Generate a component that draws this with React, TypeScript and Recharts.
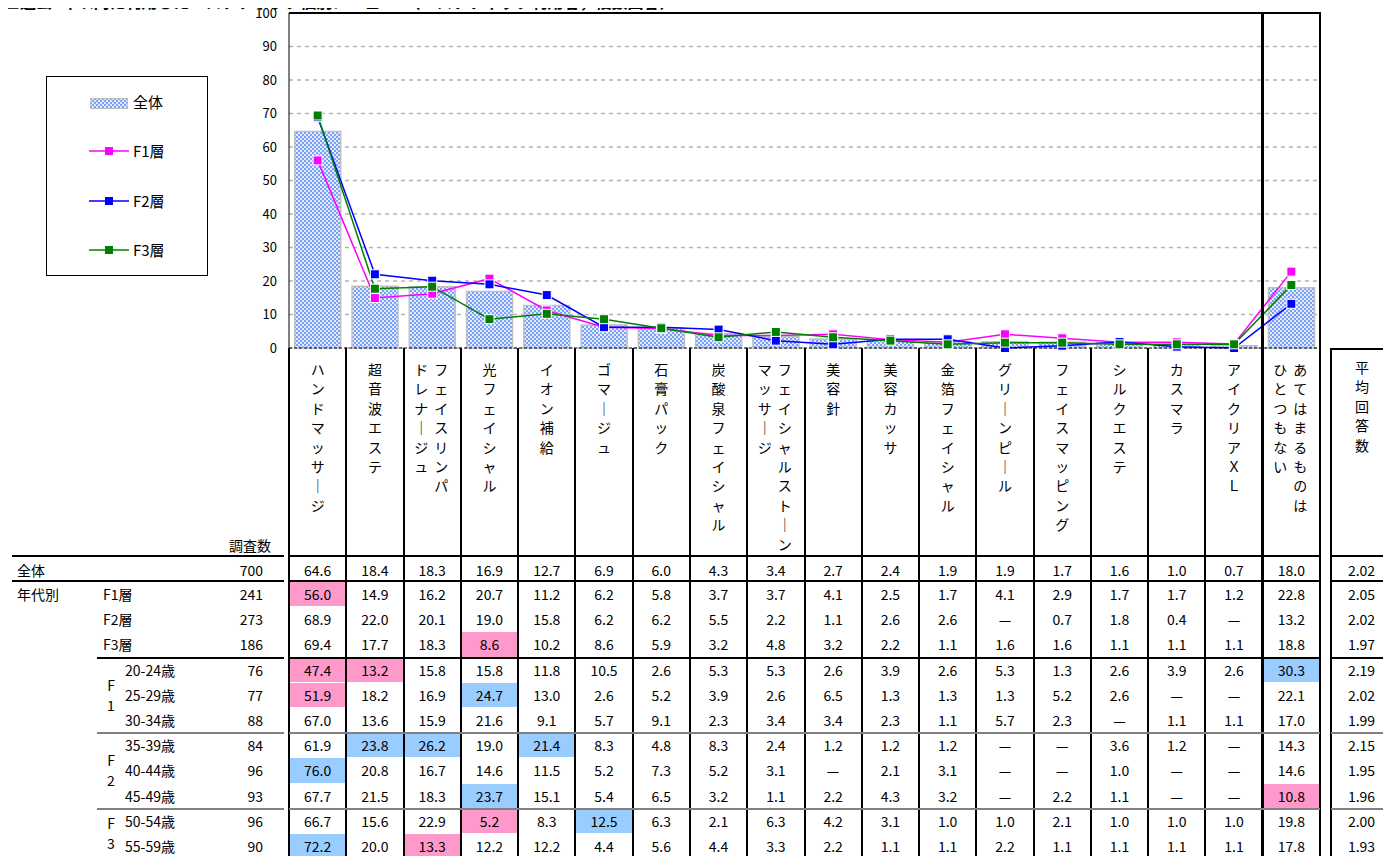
import React from "react";
import { ComposedChart, Bar, Line, XAxis, YAxis, CartesianGrid } from "recharts";

const categories = [
  "ハンドマッサージ",
  "超音波エステ",
  "フェイスリンパ\nドレナージュ",
  "光フェイシャル",
  "イオン補給",
  "ゴマージュ",
  "石膏パック",
  "炭酸泉フェイシャル",
  "フェイシャルストーン\nマッサージ",
  "美容針",
  "美容カッサ",
  "金箔フェイシャル",
  "グリーンピール",
  "フェイスマッピング",
  "シルクエステ",
  "カスマラ",
  "アイクリアＸＬ",
  "あてはまるものは\nひとつもない",
];

const totalValues = [64.6, 18.4, 18.3, 16.9, 12.7, 6.9, 6.0, 4.3, 3.4, 2.7, 2.4, 1.9, 1.9, 1.7, 1.6, 1.0, 0.7, 18.0];
const f1Values = [56.0, 14.9, 16.2, 20.7, 11.2, 6.2, 5.8, 3.7, 3.7, 4.1, 2.5, 1.7, 4.1, 2.9, 1.7, 1.7, 1.2, 22.8];
const f2Values = [68.9, 22.0, 20.1, 19.0, 15.8, 6.2, 6.2, 5.5, 2.2, 1.1, 2.6, 2.6, null, 0.7, 1.8, 0.4, null, 13.2];
const f3Values = [69.4, 17.7, 18.3, 8.6, 10.2, 8.6, 5.9, 3.2, 4.8, 3.2, 2.2, 1.1, 1.6, 1.6, 1.1, 1.1, 1.1, 18.8];

const yTicks = [0, 10, 20, 30, 40, 50, 60, 70, 80, 90, 100];

const totalCount = 700;
const totalAvg = 2.02;

const rowLabels = ["F1層", "F2層", "F3層", "20-24歳", "25-29歳", "30-34歳", "35-39歳", "40-44歳", "45-49歳", "50-54歳", "55-59歳"];
const rowCounts = [241, 273, 186, 76, 77, 88, 84, 96, 93, 96, 90];
const rowAvg = [2.05, 2.02, 1.97, 2.19, 2.02, 1.99, 2.15, 1.95, 1.96, 2.0, 1.93];
const rowValues: (number | null)[][] = [
  f1Values,
  f2Values,
  f3Values,
  [47.4, 13.2, 15.8, 15.8, 11.8, 10.5, 2.6, 5.3, 5.3, 2.6, 3.9, 2.6, 5.3, 1.3, 2.6, 3.9, 2.6, 30.3],
  [51.9, 18.2, 16.9, 24.7, 13.0, 2.6, 5.2, 3.9, 2.6, 6.5, 1.3, 1.3, 1.3, 5.2, 2.6, null, null, 22.1],
  [67.0, 13.6, 15.9, 21.6, 9.1, 5.7, 9.1, 2.3, 3.4, 3.4, 2.3, 1.1, 5.7, 2.3, null, 1.1, 1.1, 17.0],
  [61.9, 23.8, 26.2, 19.0, 21.4, 8.3, 4.8, 8.3, 2.4, 1.2, 1.2, 1.2, null, null, 3.6, 1.2, null, 14.3],
  [76.0, 20.8, 16.7, 14.6, 11.5, 5.2, 7.3, 5.2, 3.1, null, 2.1, 3.1, null, null, 1.0, null, null, 14.6],
  [67.7, 21.5, 18.3, 23.7, 15.1, 5.4, 6.5, 3.2, 1.1, 2.2, 4.3, 3.2, null, 2.2, 1.1, null, null, 10.8],
  [66.7, 15.6, 22.9, 5.2, 8.3, 12.5, 6.3, 2.1, 6.3, 4.2, 3.1, 1.0, 1.0, 2.1, 1.0, 1.0, 1.0, 19.8],
  [72.2, 20.0, 13.3, 12.2, 12.2, 4.4, 5.6, 4.4, 3.3, 2.2, 1.1, 1.1, 2.2, 1.1, 1.1, 1.1, 1.1, 17.8],
];

// [row, column, 'low' | 'high'] — significance marks vs. 全体
const marks: [number, number, "low" | "high"][] = [
  [0, 0, "low"],
  [2, 3, "low"],
  [3, 0, "low"],
  [3, 1, "low"],
  [3, 17, "high"],
  [4, 0, "low"],
  [4, 3, "high"],
  [6, 1, "high"],
  [6, 2, "high"],
  [6, 4, "high"],
  [7, 0, "high"],
  [8, 3, "high"],
  [8, 17, "low"],
  [9, 3, "low"],
  [9, 5, "high"],
  [10, 0, "high"],
  [10, 2, "low"],
];

const chartData = categories.map((name, i) => ({
  name,
  total: totalValues[i],
  f1: f1Values[i] ?? 0,
  f2: f2Values[i] ?? 0,
  f3: f3Values[i] ?? 0,
}));

const FONT = "'Liberation Sans Narrow', 'Noto Sans CJK JP', sans-serif";
const JP = "'Noto Sans CJK JP', sans-serif";
const PLOT_L = 289;
const PLOT_R = 1320;
const COL_W = (PLOT_R - PLOT_L) / categories.length;
const ROW_TOP = 582;
const ROW_H = 25.2;

const fmt = (v: number | null) => (v == null ? "—" : v.toFixed(1));

const squareDot = (color: string) => (p: any) => (
  <rect key={p.index} x={p.cx - 4.5} y={p.cy - 4.5} width={9} height={9} fill={color} stroke="#fff" strokeWidth={1} />
);

const DotPattern = ({ id }: { id: string }) => (
  <pattern id={id} width={4} height={4} patternUnits="userSpaceOnUse">
    <rect width={4} height={4} fill="#e2eaff" />
    <circle cx={1} cy={1} r={0.9} fill="#4a7df2" />
    <circle cx={3} cy={3} r={0.9} fill="#4a7df2" />
  </pattern>
);

const VerticalTick = (props: any) => {
  const { x, y, payload } = props;
  const cols = String(payload.value).split("\n");
  return (
    <g>
      {cols.map((col, ci) => {
        const cx = x + (cols.length === 1 ? 0 : ci === 0 ? 9 : -11);
        return Array.from(col).map((ch, k) => (
          <text
            key={`${ci}-${k}`}
            x={cx}
            y={y + 19 + k * 19.4}
            textAnchor="middle"
            dominantBaseline="central"
            fontSize={14}
            fontFamily={JP}
            fill="#000"
          >
            {ch === "ー" ? "｜" : ch}
          </text>
        ));
      })}
    </g>
  );
};

const hLine = (y: number, x1: number, x2: number, color = "#000", h = 2) => (
  <div style={{ position: "absolute", left: x1, top: y - h / 2, width: x2 - x1, height: h, background: color }} />
);
const vLine = (x: number, y1: number, y2: number, color = "#000", w = 2) => (
  <div style={{ position: "absolute", left: x - w / 2, top: y1, width: w, height: y2 - y1, background: color }} />
);

const LegendLine = ({ color }: { color: string }) => (
  <svg width={40} height={10} style={{ display: "block" }}>
    <line x1={0} y1={5} x2={40} y2={5} stroke={color} strokeWidth={1.5} />
    <rect x={16} y={1} width={8} height={8} fill={color} />
  </svg>
);

export default function App() {
  const cell = (left: number, top: number, width: number, text: string, align: "left" | "center" | "right" = "center", bg?: string) => (
    <div
      style={{
        position: "absolute",
        left,
        top,
        width,
        height: ROW_H - 1,
        lineHeight: `${ROW_H - 1}px`,
        textAlign: align,
        background: bg,
        fontSize: 14,
        fontFamily: FONT,
        color: "#000",
        whiteSpace: "nowrap",
      }}
    >
      {text}
    </div>
  );

  const markFor = (r: number, c: number) => {
    const m = marks.find((k) => k[0] === r && k[1] === c);
    return m ? (m[2] === "low" ? "#ff99cc" : "#99ccff") : undefined;
  };

  const lineSegs = (y: number, from: number, color = "#000") => (
    <>
      {hLine(y, from, 284, color)}
      {hLine(y, PLOT_L, PLOT_R, color)}
      {hLine(y, 1331, 1391, color)}
    </>
  );

  return (
    <div style={{ position: "relative", width: 1391, height: 856, marginLeft: -8, marginTop: -8, overflow: "hidden", background: "#fff" }}>
      <div style={{ position: "absolute", left: 4, top: -9, fontSize: 16, fontWeight: "bold", fontFamily: JP, whiteSpace: "nowrap", lineHeight: "20px" }}>
        ■過去1年以内に利用したエステティック個別メニュー　（エステティック利用者，複数回答）
      </div>
      <div style={{ position: "absolute", left: 1352, top: -10, fontSize: 13, fontFamily: JP, lineHeight: "20px" }}>（%）</div>

      <div style={{ position: "absolute", left: 0, top: 0 }}>
        <ComposedChart width={1391} height={560} data={chartData} margin={{ top: 13, right: 71, bottom: 5, left: 249 }} barCategoryGap="10%">
          <defs>
            <DotPattern id="dots" />
          </defs>
          <CartesianGrid vertical={false} stroke="#b4b4b4" strokeDasharray="4 4" strokeWidth={1.5} />
          <YAxis
            domain={[0, 100]}
            ticks={yTicks}
            interval={0}
            width={40}
            tickLine={false}
            tickSize={0}
            tickMargin={12}
            axisLine={{ stroke: "#000" }}
            tick={{ fontSize: 13, fill: "#000", fontFamily: FONT }}
          />
          <XAxis
            dataKey="name"
            interval={0}
            height={207}
            tickLine={false}
            tickSize={0}
            axisLine={{ stroke: "#000", strokeDasharray: "3 2" }}
            tick={<VerticalTick />}
          />
          <Bar dataKey="total" fill="url(#dots)" stroke="#c0c0c0" strokeWidth={1.5} isAnimationActive={false} />
          <Line dataKey="f1" stroke="#ff00ff" strokeWidth={1.5} dot={squareDot("#ff00ff")} activeDot={false} isAnimationActive={false} />
          <Line dataKey="f2" stroke="#0000ff" strokeWidth={1.5} dot={squareDot("#0000ff")} activeDot={false} isAnimationActive={false} />
          <Line dataKey="f3" stroke="#008000" strokeWidth={1.5} dot={squareDot("#008000")} activeDot={false} isAnimationActive={false} />
        </ComposedChart>
      </div>

      {/* plot frame */}
      {hLine(13, PLOT_L, PLOT_R + 1, "#000", 1.5)}
      {vLine(PLOT_R, 13, 348, "#000", 1.5)}
      {vLine(PLOT_L + 17 * COL_W, 13, 856, "#000", 2.5)}

      {/* legend */}
      <div style={{ position: "absolute", left: 46, top: 76, width: 160, height: 198, border: "1px solid #000", background: "#fff", fontFamily: JP, fontSize: 15 }}>
        <svg width={38} height={11} style={{ position: "absolute", left: 43, top: 21 }}>
          <defs>
            <DotPattern id="dotsLegend" />
          </defs>
          <rect x={0.5} y={0.5} width={37} height={10} fill="url(#dotsLegend)" stroke="#c0c0c0" />
        </svg>
        <div style={{ position: "absolute", left: 86, top: 14 }}>全体</div>
        {[
          ["#ff00ff", "F1層", 74],
          ["#0000ff", "F2層", 124],
          ["#008000", "F3層", 173],
        ].map(([c, t, y]) => (
          <React.Fragment key={t as string}>
            <div style={{ position: "absolute", left: 42, top: (y as number) - 5 }}>
              <LegendLine color={c as string} />
            </div>
            <div style={{ position: "absolute", left: 86, top: (y as number) - 11 }}>{t}</div>
          </React.Fragment>
        ))}
      </div>

      {/* 平均回答数 header */}
      {Array.from("平均回答数").map((ch, k) => (
        <div key={k} style={{ position: "absolute", left: 1352, top: 358 + k * 19.4, width: 20, textAlign: "center", fontSize: 14, fontFamily: JP, lineHeight: "19px" }}>
          {ch}
        </div>
      ))}

      {/* table: left part */}
      <div style={{ position: "absolute", left: 229, top: 535, fontSize: 14, fontFamily: JP }}>調査数</div>
      {cell(17, 558, 60, "全体", "left")}
      {cell(200, 558, 63, String(totalCount), "right")}
      {cell(17, ROW_TOP, 60, "年代別", "left")}
      {rowLabels.map((l, r) => (
        <React.Fragment key={l}>
          {cell(r < 3 ? 103 : 125, ROW_TOP + r * ROW_H, 80, l, "left")}
          {cell(200, ROW_TOP + r * ROW_H, 63, String(rowCounts[r]), "right")}
        </React.Fragment>
      ))}
      {[
        ["F", "1", 4],
        ["F", "2", 7],
        ["F", "3", 9.5],
      ].map(([a, b, c]) => (
        <React.Fragment key={b as string}>
          {cell(104, ROW_TOP + (c as number) * ROW_H - 10, 14, a as string)}
          {cell(104, ROW_TOP + (c as number) * ROW_H + 10, 14, b as string)}
        </React.Fragment>
      ))}

      {/* table: values */}
      {totalValues.map((v, c) => (
        <React.Fragment key={c}>{cell(PLOT_L + c * COL_W + 1, 558, COL_W - 2, fmt(v))}</React.Fragment>
      ))}
      {cell(1332, 558, 59, totalAvg.toFixed(2))}
      {rowValues.map((vals, r) => (
        <React.Fragment key={r}>
          {vals.map((v, c) => (
            <React.Fragment key={c}>{cell(PLOT_L + c * COL_W + 1, ROW_TOP + r * ROW_H, COL_W - 2, fmt(v), "center", markFor(r, c))}</React.Fragment>
          ))}
          {cell(1332, ROW_TOP + r * ROW_H, 59, rowAvg[r].toFixed(2))}
        </React.Fragment>
      ))}

      {/* table grid */}
      {categories.map((_, i) => (i === 17 ? null : <React.Fragment key={i}>{vLine(PLOT_L + i * COL_W, 348, 856)}</React.Fragment>))}
      {vLine(PLOT_R, 348, 856)}
      {vLine(1331, 348, 856)}
      {hLine(349, 1331, 1391)}
      {lineSegs(556, 12)}
      {lineSegs(581, 12)}
      {lineSegs(ROW_TOP + 3 * ROW_H, 97)}
      {lineSegs(ROW_TOP + 6 * ROW_H, 97, "#808080")}
      {lineSegs(ROW_TOP + 9 * ROW_H, 97, "#808080")}
    </div>
  );
}
